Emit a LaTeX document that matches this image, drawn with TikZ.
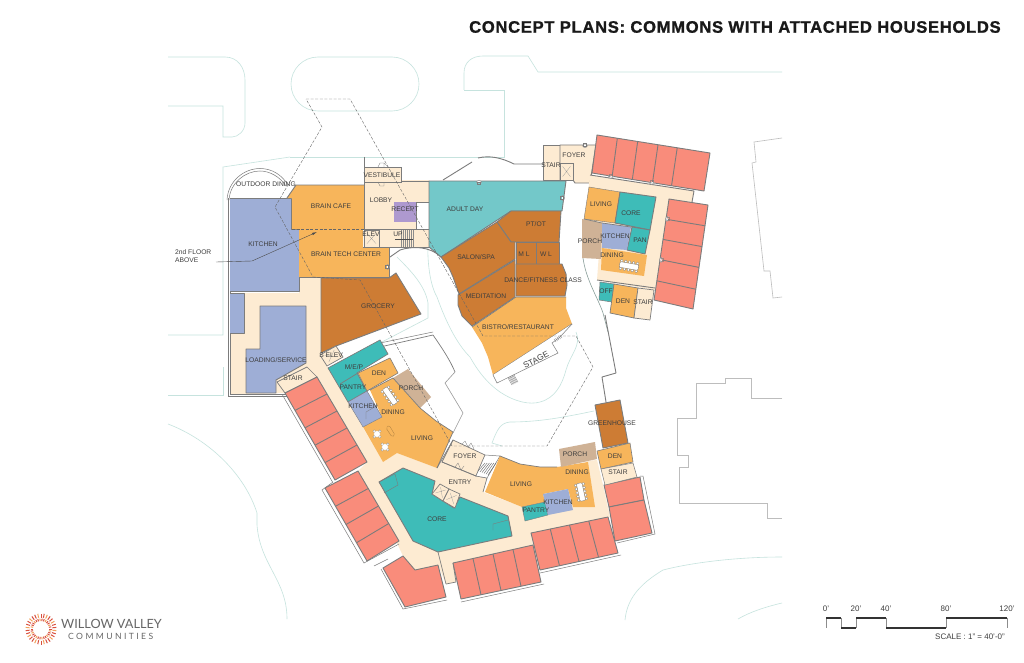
\documentclass[tikz,border=0pt]{standalone}
\usepackage{fontspec}
\setmainfont{Liberation Sans}
\newfontfamily\logofont{Lato}
\newfontfamily\logospaced[LetterSpace=28]{Lato}
\newfontfamily\titlefont[LetterSpace=4.2,FakeBold=1.2]{Liberation Sans Bold}
\usetikzlibrary{calc,arrows.meta}
\definecolor{cream}{HTML}{FDEBD2}
\definecolor{orangeroom}{HTML}{F7B55B}
\definecolor{brownroom}{HTML}{CD7C34}
\definecolor{blueroom}{HTML}{9EAED6}
\definecolor{tealroom}{HTML}{3EBCB8}
\definecolor{adultroom}{HTML}{73C8C9}
\definecolor{salmon}{HTML}{F98C7B}
\definecolor{tanroom}{HTML}{CFB296}
\definecolor{purpleroom}{HTML}{AE99CF}
\definecolor{wall}{HTML}{7C7C7C}
\definecolor{site}{HTML}{C6E3DE}
\definecolor{farline}{HTML}{BDBDBD}
\definecolor{labcol}{HTML}{3E3E3E}
\tikzset{
  lab/.style={font=\fontsize{6.7}{7.5}\selectfont,text=labcol,inner sep=0pt,align=center},
  scalelab/.style={font=\fontsize{8}{9}\selectfont,text=labcol,inner sep=0pt},
  room/.style={draw=wall,line width=0.9pt,line join=round},
  sitel/.style={draw=site,line width=0.6pt},
  farl/.style={draw=farline,line width=0.6pt},
  wallthin/.style={draw=wall,line width=0.5pt},
  dash2/.style={draw=black!60,line width=0.4pt,dash pattern=on 3pt off 1.6pt},
  barl/.style={draw=black!80,line width=1.3pt},
  tickl/.style={draw=black!45,line width=0.4pt},
}
% dining table: centre, rotation, half length
\newcommand{\dtable}[4]{%
  \begin{scope}[shift={(#1,#2)},rotate=#3]
    \foreach \xx in {-#4,-0.5*#4,0,0.5*#4,#4}{
      \fill[white,draw=black!55,line width=0.2pt] (\xx,-3.9) circle (1.5pt);
      \fill[white,draw=black!55,line width=0.2pt] (\xx,3.9) circle (1.5pt);}
    \fill[white,draw=black!55,line width=0.3pt,rounded corners=1pt] (-#4-1.5,-2.8) rectangle (#4+1.5,2.8);
  \end{scope}}
\newcommand{\chairset}[2]{%
  \begin{scope}[shift={(#1,#2)}]
    \foreach \aa in {45,135,225,315}{\fill[white,draw=black!50,line width=0.2pt] (\aa:3.9pt) circle (1.4pt);}
    \fill[white,draw=black!30,line width=0.1pt] (0,0) circle (3.2pt);
  \end{scope}}
\newcommand{\xbox}[4]{%
  \fill[cream,draw=wall,line width=0.7pt] (#1) -- (#2) -- (#3) -- (#4) -- cycle;
  \draw[black!40,line width=0.25pt] ($(#1)!.2!(#3)$) -- ($(#1)!.8!(#3)$) ($(#2)!.2!(#4)$) -- ($(#2)!.8!(#4)$);}
\newcommand{\doorm}[3]{%
  \begin{scope}[shift={(#1,#2)},rotate=#3]
    \fill[white] (-2.6,0) arc (180:0:2.6) -- cycle;
    \draw[wall,line width=0.35pt] (-2.6,0) arc (180:0:2.6);
    \draw[wall,line width=0.5pt] (-1.5,-1.5) rectangle (1.5,1);
  \end{scope}}
\begin{document}
\begin{tikzpicture}[x=1pt,y=-1pt]
\useasboundingbox (0,0) rectangle (1024,663);
\fill[white] (0,0) rectangle (1024,663);
% ---- site lines
\draw[sitel] (168,57) -- (225,57) .. controls (238,57) and (245,68) .. (245,80) -- (245,123) .. controls (245,131) and (238,137) .. (232,137) -- (223,137) -- (223,106) -- (168,106);
\draw[sitel,rounded corners=27pt] (291,57) rectangle (419,111);
\draw[sitel] (464,90) -- (464,73) .. controls (464,62) and (472,56) .. (483,56) -- (528,56) -- (538,72) -- (782,72);
\draw[sitel] (464,90) -- (504,90) -- (504,157) -- (290,157);
\draw[sitel] (290,157) -- (223,167) -- (223,335) -- (168,335);
\draw[sitel] (223,367) -- (223,395) -- (168,395);
\draw[sitel] (168,424) .. controls (210,440) and (245,475) .. (257,513) -- (257,525) .. controls (260,565) and (287,580) .. (287,619);
\draw[sitel] (625,620) .. controls (627,600) and (638,585) .. (663,570) .. controls (690,563) and (735,557) .. (782,557);
\draw[sitel] (738,619) .. controls (750,612) and (765,607) .. (782,603);
% courtyard site lines
\draw[sitel] (428,240) .. controls (427,262) and (430,285) .. (437,297) .. controls (447,325) and (458,345) .. (470,357) .. controls (480,375) and (490,385) .. (500,392) .. controls (515,402) and (530,405) .. (540,402) .. controls (555,398) and (562,385) .. (566,370) .. controls (570,355) and (582,345) .. (576,332);
\draw[sitel] (397,257) .. controls (410,270) and (425,285) .. (428,303) -- (428,318) -- (380,343);
\draw[sitel,draw=site!70!black] (583,258) .. controls (586,280) and (598,298) .. (603,313) -- (608,332);
\draw[sitel] (492,443) .. controls (497,430) and (500,423) .. (510,422) .. controls (540,422) and (565,417) .. (594,411);
\draw[sitel] (492,443) -- (502,446);
% far buildings
\draw[farl] (782,138) -- (754,142) -- (756,162) -- (752,163) -- (764,271) -- (770,271) -- (773,298) -- (782,297);
\draw[farl] (782,398) -- (751,398) -- (751,378) -- (725,378) -- (725,383) -- (696,383) -- (696,418) -- (677,418) -- (677,455) -- (688,455) -- (688,467) -- (679,467) -- (679,503) -- (767,503) -- (767,518) -- (782,518);
% ---- outdoor dining arc
\draw[draw=wall,line width=0.5pt] (229,200) .. controls (230,183) and (245,171) .. (260,171) .. controls (270,171) and (280,177) .. (286,186);
\draw[draw=wall,line width=0.5pt] (227,200) .. controls (228,181) and (244,168.5) .. (260,168.5) .. controls (272,168.5) and (282,175) .. (288,185);
% ---- cream base, west + south wing
\fill[cream] (230,293) -- (299,293) -- (299,278) -- (321,278) -- (321,353) -- (328,368) -- (383,462) -- (397,453) -- (437,468) -- (441,462) -- (453,440) -- (485,455) -- (476,476) -- (487,478) -- (483,492) -- (522,507) -- (560,500) -- (587,461) -- (597,460) -- (603,485) -- (610,517) -- (531,533) -- (533,545) -- (453,563) -- (456,582) -- (446,584) -- (438,565) -- (415,570) -- (403,556) -- (396,541) -- (358,471) -- (367,462) -- (317,377) -- (285,393) -- (230,395) -- cycle;
\draw[wallthin,line width=0.8pt] (230,198) -- (230,394) -- (287,394);
\draw[wallthin] (228,198) -- (228,396) -- (287,396);
% ---- west block
\fill[blueroom] (230,198) -- (291,198) -- (291,229) -- (299,229) -- (299,291) -- (230,291) -- cycle;
\draw[room] (230,198) -- (291,198) -- (291,229) -- (299,229) -- (299,291) -- (230,291);
\fill[blueroom] (230,293) -- (244,293) -- (244,333) -- (230,333) -- cycle;
\draw[room] (230,293) -- (244,293) -- (244,333) -- (230,333);
\path[room,fill=blueroom] (260,306) -- (306,306) -- (306,363) -- (276,380) -- (276,393) -- (246,393) -- (246,349) -- (260,349) -- cycle;
\fill[orangeroom] (296,185) -- (364,185) -- (364,229) -- (292,229) -- (292,198) -- (287,198) -- cycle;
\draw[room] (287,198) -- (296,185) -- (364,185);
\fill[orangeroom] (299,229) -- (363,229) -- (363,247) -- (389,247) -- (389,277) -- (299,277) -- cycle;
\draw[room] (363,247) -- (389,247) -- (389,277) -- (299,277);
\doorm{387}{267}{90}
\fill[cream] (364,180) -- (429,180) -- (429,247) -- (364,247) -- cycle;
\draw[room] (364,157) -- (364,247);
\draw[room] (364,181) -- (429,181);
\path[draw=wall,line width=0.7pt,fill=cream] (364,167) rectangle (401,182);
\draw[wall,line width=0.3pt] (378,167) -- (380,163) -- (384,163) -- (384,167) (384,163) -- (388,167) (378,182) -- (380,186) -- (384,186) -- (384,182);
\fill[purpleroom] (394,202) rectangle (416,222);
\path[draw=wall,line width=0.6pt,fill=white] (416,202) -- (429,202) -- (429,229) -- (416,229) -- cycle;
\draw[room,line width=0.7pt] (364,229.5) -- (429,229.5);
\xbox{364,230}{379,230}{379,247}{364,247}
\foreach \xx in {401,403,405,407,409,411,413}{\draw[black!45,line width=0.4pt] (\xx,230) -- (\xx,247);}
\draw[black!70,line width=0.7pt] (395,239) -- (413,239);
\draw[room] (429,247) -- (389,247);
% arc north of lobby corner
\draw[room] (390,257) -- (400,250) .. controls (412,246) and (430,246) .. (441,257);
\path[room,fill=brownroom] (321,278) -- (389,278) -- (396,273) -- (421,314) -- (336,346) -- (321,353) -- cycle;
\xbox{320,355}{336,346}{343,357}{327,366}
% stair
\path[draw=wall,line width=0.7pt,fill=cream] (277,382) -- (307,367) -- (317,377) -- (285,393) -- cycle;
% ---- central commons
\path[room,fill=adultroom] (429,181) -- (566,181) -- (562,211) -- (511,211) -- (441,257) -- (429,247) -- cycle;
\doorm{479}{183}{180}
\doorm{562}{198}{90}
\path[room,fill=brownroom] (511,211) -- (561,211) -- (559,242) -- (511,242) -- (497,222) -- cycle;
\path[room,fill=brownroom] (497,222) -- (511,242) -- (515,242) -- (515,259) -- (459,294) -- (453,277) -- (449,268) -- (441,257) -- cycle;
\path[room,fill=brownroom] (516,242) rectangle (536,264);
\path[room,fill=brownroom] (536,242) rectangle (559,264);
\path[room,fill=brownroom] (516,264) -- (562,264) -- (566,274) -- (567,285) -- (565,296) -- (516,296) -- cycle;
\path[room,fill=brownroom] (515,260) -- (515,297) -- (472,326) -- (462,316) -- (458,305) -- (458,295) -- cycle;
\fill[orangeroom] (516,297) -- (566,297) -- (566,308) -- (572,324) -- (493,375) -- (488,357) -- (482,343) -- (472,327) -- cycle;
\draw[room] (572,324) -- (493,375);
\draw[room,line width=0.6pt] (472,327) -- (516,297) -- (566,297);
\path[draw=wall,line width=0.5pt,fill=white] (493,375) -- (497,383) -- (558,353) -- (552,343) -- (560,337) -- (572,324);
\foreach \tt in {0,.17,.34,.5,.67,.84,1}{\draw[black!50,line width=0.35pt] ($(508,378)!\tt!(514,375)$) -- ($(512,385)!\tt!(518,382)$);}
\foreach \tt in {0,.25,.5,.75,1}{\draw[black!50,line width=0.35pt] ($(554,339)!\tt!(560,335)$) -- ($(556,342)!\tt!(562,338)$);}
% curved wall and stair tower north of commons
\draw[room] (443,180) -- (472,162);
\draw[room] (478,158) .. controls (490,155) and (502,158) .. (514,164) -- (543,164);
\path[room,fill=cream] (543,145) rectangle (560,180);
\path[room,fill=cream] (560,145) -- (596,145) -- (590,183) -- (575,183) -- (573,180) -- (560,180) -- cycle;
\doorm{585}{145}{0}
\xbox{560,163}{573,163}{573,180}{560,180}
% ---- NE household
\fill[cream] (590,175) -- (694,191) -- (692,202) -- (669,199) -- (655,290) -- (597,280) -- (600,240) -- (585,220) -- cycle;
\draw[room] (590,175) -- (694,191) -- (692,202);
\draw[room] (597,280) -- (655,288);
\coordinate (ta) at (597,135); \coordinate (tb) at (710,153); \coordinate (tc) at (704,191); \coordinate (td) at (592,173);
\path[room,fill=salmon] (ta) -- (tb) -- (tc) -- (td) -- cycle;
\foreach \tt in {.18,.36,.54,.71}{\draw[room] ($(ta)!\tt!(tb)$) -- ($(td)!\tt!(tc)$);}
\coordinate (ra) at (669,199); \coordinate (rb) at (708,205); \coordinate (rc) at (693,309); \coordinate (rd) at (654,300);
\path[room,fill=salmon] (ra) -- (rb) -- (rc) -- (rd) -- cycle;
\foreach \tt in {.2,.4,.6,.81}{\draw[room] ($(ra)!\tt!(rd)$) -- ($(rb)!\tt!(rc)$);}
\doorm{611}{176}{-8}
\doorm{652}{182}{-8}
\doorm{668}{219}{-98}
\doorm{662}{260}{-98}
\path[fill=orangeroom,draw=wall,line width=0.4pt] (589,187) -- (620,192) -- (615,223) -- (584,219) -- cycle;
\path[room,fill=tealroom] (620,192) -- (656,197) -- (650,230) -- (615,223) -- cycle;
\path[room,fill=tealroom] (632,227) -- (650,230) -- (645,254) -- (627,250) -- cycle;
\fill[blueroom] (602,223) -- (631,227) -- (627,250) -- (602,248) -- cycle;
\fill[tanroom] (582,219) -- (602,223) -- (601,259) -- (582,258) -- cycle;
\draw[wall,line width=0.7pt] (584,219) -- (602,223) -- (631,227);
\fill[orangeroom] (602,248) -- (647,255) -- (644,276) -- (601,270) -- cycle;
\dtable{629}{266}{-10}{8}
\path[draw=wall,line width=0.5pt,fill=tealroom] (600,282) -- (614,284) -- (612,302) -- (599,300) -- cycle;
\path[room,line width=0.7pt,fill=orangeroom] (614,284) -- (638,288) -- (634,318) -- (610,313) -- cycle;
\path[room,line width=0.7pt,fill=cream] (638,288) -- (654,290) -- (650,320) -- (634,318) -- cycle;
\draw[room] (605,315) -- (616,373) -- (602,377) -- (606,402);
% wall west-courtyard
\draw[room,line width=0.7pt] (380,347) -- (433,335) .. controls (442,348) and (450,360) .. (455,372);
\draw[wallthin] (380,343) -- (433,332);
\draw[farl,draw=black!40] (455,372) -- (445,383) -- (463,413) -- (453,433);
% ---- SW household
\coordinate (wa) at (285,393); \coordinate (wb) at (317,377); \coordinate (wc) at (367,462); \coordinate (wd) at (335,480);
\path[room,fill=salmon] (wa) -- (wb) -- (wc) -- (wd) -- cycle;
\foreach \tt in {.2,.4,.6,.8}{\draw[room] ($(wa)!\tt!(wd)$) -- ($(wb)!\tt!(wc)$);}
\draw[wallthin] (282.5,395) -- (332.5,482) (333,482) -- (322,490) -- (364,563) -- (399,544);
\coordinate (xa) at (325,488); \coordinate (xb) at (358,471); \coordinate (xc) at (399,541); \coordinate (xd) at (367,561);
\path[room,fill=salmon] (xa) -- (xb) -- (xc) -- (xd) -- cycle;
\foreach \tt in {.25,.5,.75}{\draw[room] ($(xa)!\tt!(xd)$) -- ($(xb)!\tt!(xc)$);}
\path[room,fill=salmon] (383,568) -- (403,556) -- (415,570) -- (438,565) -- (446,597) -- (405,607) -- cycle;
\draw[wallthin] (381,569) -- (403,609) -- (447,600);
\draw[wallthin] (388,559) -- (374,566);
% rooms
\path[draw=wall,line width=0.7pt,fill=tealroom] (328,368) -- (380,340) -- (388,354) -- (357,373) -- (367,391) -- (348,402) -- cycle;
\draw[wall,line width=0.7pt] (358,373) -- (340,384);
\path[room,line width=0.6pt,fill=orangeroom] (358,373) -- (390,358) -- (398,373) -- (367,391) -- cycle;
\fill[orangeroom] (370,390) -- (393,378) -- (420,408) -- (436,421) -- (453,432) -- (437,468) -- (397,453) -- (383,462) -- (363,427) -- (382,417) -- cycle;
\draw[room,line width=0.7pt] (370,390) -- (393,378);
\path[draw=wall,line width=0.4pt,fill=blueroom] (348,402) -- (367,391) -- (382,417) -- (363,427) -- cycle;
\draw[wall,line width=0.3pt] (366,419) -- (366,412) -- (378,405);
\fill[tanroom] (393,378) -- (408,369) -- (431,397) -- (420,408) -- cycle;
\draw[room,line width=0.7pt] (393,378) -- (420,408) -- (436,421) -- (453,432) -- (437,468);
\dtable{390}{396}{-55}{8}
\chairset{377}{434}
\chairset{385}{447}
\draw[orangeroom!70!black,line width=0.3pt,rounded corners=1.5pt] (386,428) -- (389,425) -- (395,435) -- (392,437) -- cycle;
% foyer, entry
\path[draw=wall,line width=0.7pt,fill=cream] (453,440) -- (485,455) -- (476,476) -- (442,462) -- cycle;
\draw[wall,line width=0.3pt] (462,444) -- (465,441) -- (468,447) -- (471,443) -- (474,449);
\draw[wall,line width=0.3pt] (455,467) -- (458,463) -- (461,470) -- (464,466);
\draw[room,line width=0.7pt] (442,462) -- (476,476) -- (487,478) -- (483,492);
\draw[room,line width=0.7pt] (453,440) -- (437,468);
% stairs
\path[draw=wall,line width=0.5pt,fill=white] (476,476) -- (485,455) -- (500,456) -- (487,478) -- cycle;
\foreach \tt in {0,.2,.4,.6,.8,1}{\draw[black!60,line width=0.4pt] ($(478,471)!\tt!(488,475)$) -- ($(485,463)!\tt!(496,463)$);}
% core
\path[room,fill=tealroom] (379,482) -- (403,468) -- (435,481) -- (432,494) -- (454,508) -- (460,497) -- (508,516) -- (512,536) -- (438,552) -- (413,541) -- cycle;
\draw[wall,line width=0.4pt] (379,482) -- (395,474) -- (398,485) -- (384,493);
\draw[wall,line width=0.4pt] (493,530) -- (493,524) -- (508,520);
\xbox{432,494}{440,484}{449,489}{443,501}
\xbox{443,501}{449,489}{460,494}{455,508}
\draw[room,line width=0.7pt] (438,552) -- (446,584) (453,563) -- (456,582) -- (446,584);
% ---- south household
\coordinate (sa) at (531,533); \coordinate (sb) at (608,517); \coordinate (sc) at (618,553); \coordinate (sd) at (540,570);
\path[room,fill=salmon] (sa) -- (sb) -- (sc) -- (sd) -- cycle;
\foreach \tt in {.25,.5,.75}{\draw[room] ($(sa)!\tt!(sb)$) -- ($(sd)!\tt!(sc)$);}
\coordinate (ba) at (453,563); \coordinate (bb) at (533,545); \coordinate (bc) at (541,582); \coordinate (bd) at (461,599);
\path[room,fill=salmon] (ba) -- (bb) -- (bc) -- (bd) -- cycle;
\foreach \tt in {.25,.5,.75}{\draw[room] ($(ba)!\tt!(bb)$) -- ($(bd)!\tt!(bc)$);}
\draw[wallthin] (461,602) -- (544,584) (540,573) -- (621,555);
\path[room,fill=salmon] (604,485) -- (640,477) -- (644,500) -- (609,507) -- cycle;
\path[room,fill=salmon] (609,507) -- (644,500) -- (652,533) -- (615,541) -- cycle;
\draw[wallthin] (640,476) -- (643,476) -- (655,534) -- (617,543);
\fill[orangeroom] (500,456) -- (520,464) -- (540,467) -- (557,467) -- (588,462) -- (595,507) -- (573,507) -- (568,489) -- (543,494) -- (545,502) -- (522,507) -- (485,492) -- cycle;
\draw[room,line width=0.7pt] (500,456) -- (520,464) -- (540,467) -- (557,467);
\path[draw=wall,line width=0.4pt,fill=tealroom] (522,507) -- (545,502) -- (548,515) -- (525,521) -- cycle;
\fill[blueroom] (543,494) -- (568,489) -- (573,510) -- (548,515) -- cycle;
\fill[tanroom] (559,449) -- (595,442) -- (597,459) -- (561,467) -- cycle;
\dtable{581}{492}{-78}{7.5}
\path[room,fill=brownroom] (595,405) -- (620,400) -- (628,443) -- (603,448) -- cycle;
\path[room,line width=0.6pt,fill=orangeroom] (597,451) -- (630,443) -- (633,462) -- (601,469) -- cycle;
\path[room,line width=0.5pt,fill=cream] (601,469) -- (633,463) -- (637,477) -- (605,485) -- cycle;
% ---- second-floor dashed outline
\draw[dash2] (306,99) -- (350,99) -- (483,336) -- (576,336) -- (593,367) -- (547,446) -- (452,446) -- (360,280) -- (313,277) -- (275,207) -- (322,127) -- cycle;
\draw[dash2] (292,229) -- (364,229);
% ---- leader
\coordinate (ldA) at (216,262);
\coordinate (ldB) at (252,261);
\coordinate (ldC) at (317,232);
\draw[black!70,line width=0.4pt,-{Latex[length=5pt,width=2.5pt]}] (ldA) -- (ldB) -- (ldC);
% ---- labels
\node[lab,align=left,anchor=west] (n2f) at (175,256) {2nd FLOOR\\[1.2pt]ABOVE};
\node[lab] (n01) at (263,244) {KITCHEN};
\node[lab] (n02) at (266,184) {OUTDOOR DINING};
\node[lab] (n03) at (331,206) {BRAIN CAFE};
\node[lab] (n04) at (381,200) {LOBBY};
\node[lab] (n05) at (382,175) {VESTIBULE};
\node[lab] (n06) at (405,209) {RECEPT};
\node[lab] (n07) at (371,234) {ELEV};
\node[lab] (n08) at (398,234) {UP};
\node[lab] (n09) at (346,254) {BRAIN TECH CENTER};
\node[lab] (n10) at (378,306) {GROCERY};
\node[lab] (n11) at (276,360) {LOADING/SERVICE};
\node[lab] (n12) at (331,355) {S ELEV};
\node[lab] (n13) at (293,378) {STAIR};
\node[lab] (n14) at (465,209) {ADULT DAY};
\node[lab] (n15) at (536,224) {PT/OT};
\node[lab] (n16) at (476,257) {SALON/SPA};
\node[lab] (n17) at (524,254) {M L};
\node[lab] (n18) at (546,254) {W L};
\node[lab] (n19) at (543,280) {DANCE/FITNESS CLASS};
\node[lab] (n20) at (486,296) {MEDITATION};
\node[lab] (n21) at (518,327) {BISTRO/RESTAURANT};
\node[lab,rotate=28,font=\fontsize{8.3}{9}\selectfont] (n22) at (536,360) {STAGE};
\node[lab] (n23) at (551,165) {STAIR};
\node[lab] (n24) at (574,155) {FOYER};
\node[lab] (n25) at (601,204) {LIVING};
\node[lab] (n26) at (631,213) {CORE};
\node[lab] (n27) at (590,241) {PORCH};
\node[lab] (n28) at (615,236) {KITCHEN};
\node[lab] (n29) at (640,240) {PAN};
\node[lab] (n30) at (612,255) {DINING};
\node[lab] (n31) at (606,291) {OFF};
\node[lab] (n32) at (623,301) {DEN};
\node[lab] (n33) at (643,302) {STAIR};
\node[lab] (n34) at (354,367) {M/E/P};
\node[lab] (n35) at (379,373) {DEN};
\node[lab] (n36) at (353,387) {PANTRY};
\node[lab] (n37) at (411,388) {PORCH};
\node[lab] (n38) at (363,406) {KITCHEN};
\node[lab] (n39) at (393,412) {DINING};
\node[lab] (n40) at (422,438) {LIVING};
\node[lab] (n41) at (465,456) {FOYER};
\node[lab] (n42) at (460,482) {ENTRY};
\node[lab] (n43) at (437,519) {CORE};
\node[lab] (n44) at (612,423) {GREENHOUSE};
\node[lab] (n45) at (575,454) {PORCH};
\node[lab] (n46) at (615,456) {DEN};
\node[lab] (n47) at (577,472) {DINING};
\node[lab] (n48) at (618,472) {STAIR};
\node[lab] (n49) at (521,484) {LIVING};
\node[lab] (n50) at (558,502) {KITCHEN};
\node[lab] (n51) at (536,510) {PANTRY};
% ---- title
\node[anchor=west,inner sep=0pt,font=\titlefont\fontsize{16.6}{18}\selectfont,text=black!90] (title) at (469,27) {CONCEPT PLANS: COMMONS WITH ATTACHED HOUSEHOLDS};
% ---- scale bar
\foreach \xx in {826,841,856,886,946,1007}{\draw[tickl] (\xx,618) -- (\xx,628);}
\draw[barl] (826,618) -- (841,618) (856,618) -- (886,618) (946,618) -- (1007,618);
\draw[barl] (841,628) -- (856,628) (886,628) -- (946,628);
\node[scalelab] (s0) at (826,609) {0'};
\node[scalelab] (s1) at (856,609) {20'};
\node[scalelab] (s2) at (886,609) {40'};
\node[scalelab] (s3) at (946,609) {80'};
\node[scalelab] (s4) at (1007,609) {120'};
\node[scalelab] (s5) at (970,637) {SCALE : 1" = 40'-0"};
% ---- logo
\begin{scope}[shift={(41,629)}]
\foreach \aa [count=\ii] in {0,12,...,348}{
  \pgfmathsetmacro{\ca}{mod(\ii,3)==0?1:0}
  \ifnum\ca=1 \def\cc{F2A25C}\else\def\cc{D9503F}\fi
  \definecolor{rayc}{HTML}{\cc}
  \draw[rayc,line width=1pt] (\aa:8pt) -- (\aa:10.5pt);
  \draw[rayc,line width=1pt] (\aa+6:11.5pt) -- (\aa+6:15.5pt);
}
\end{scope}
\node[anchor=west,inner sep=0pt,font=\logofont\fontsize{12.7}{14}\selectfont,text=black!60] (lg1) at (61,624) {WILLOW VALLEY};
\node[anchor=west,inner sep=0pt,font=\logospaced\fontsize{8.6}{9}\selectfont,text=black!60] (lg2) at (68,636) {COMMUNITIES};
\end{tikzpicture}
\end{document}
